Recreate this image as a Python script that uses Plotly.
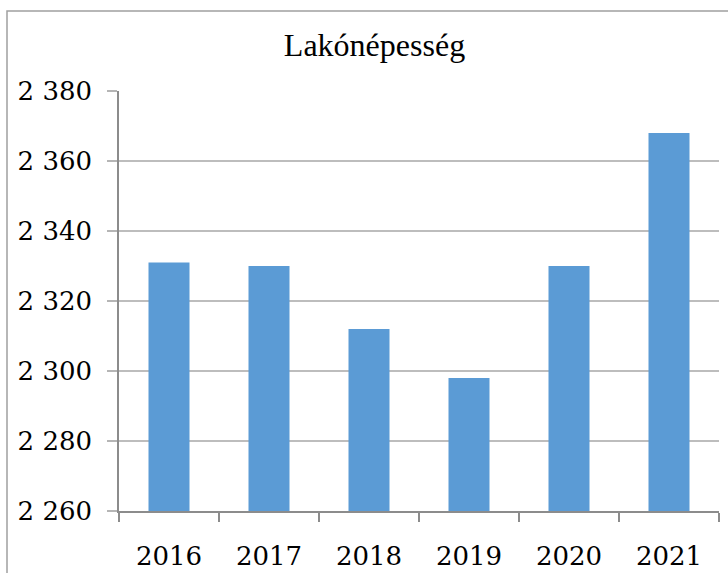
import plotly.graph_objects as go

years = ["2016", "2017", "2018", "2019", "2020", "2021"]
population = [2331, 2330, 2312, 2298, 2330, 2368]
y_ticks = [2260, 2280, 2300, 2320, 2340, 2360, 2380]
title_text = "Lakónépesség"

W, H = 728, 573
L, R, T, B = 119, 9, 91, 62
pw, ph = W - L - R, H - T - B

fig = go.Figure(go.Bar(
    x=years, y=population,
    marker=dict(color="#5B9BD5", line=dict(width=0)),
    width=0.41,
))

def px_x(p):
    return (p - L) / pw

def px_y(p):
    return (H - B - p) / ph

fig.update_layout(
    width=W, height=H,
    margin=dict(l=L, r=R, t=T, b=B, autoexpand=False),
    paper_bgcolor="white", plot_bgcolor="white",
    separators=", ",
    showlegend=False,
    title=dict(text=title_text, x=(285 + 464) / 2 / W, xanchor="center",
               y=1 - 45 / H, yanchor="middle", yref="container",
               font=dict(family="Liberation Serif", size=32, color="black")),
    xaxis=dict(
        showline=True, linecolor="#8C8C8C", linewidth=1.5,
        ticks="outside", tickson="boundaries", ticklen=9, tickcolor="#8C8C8C", tickwidth=1.5,
        showgrid=False,
        tickfont=dict(family="DejaVu Serif", size=26, color="black"),
        ticklabelstandoff=21,
    ),
    yaxis=dict(
        range=[2260, 2380], tickvals=y_ticks, tickformat=",d",
        showline=True, linecolor="#8C8C8C", linewidth=1.5,
        ticks="outside", ticklen=10, tickcolor="#B5B5B5", tickwidth=2,
        showgrid=True, gridcolor="#BDBDBD", gridwidth=2,
        zeroline=False,
        tickfont=dict(family="DejaVu Serif", size=26, color="black"),
        ticklabelstandoff=10,
    ),
    shapes=[dict(type="rect", xref="paper", yref="paper",
                 x0=px_x(7), x1=px_x(800), y0=px_y(700), y1=px_y(11),
                 line=dict(color="#A0A0A0", width=1.5), layer="below")],
)

fig.write_html("out.html", config={"displayModeBar": False},
               post_script="document.body.style.margin='0';document.body.style.overflow='hidden';")
